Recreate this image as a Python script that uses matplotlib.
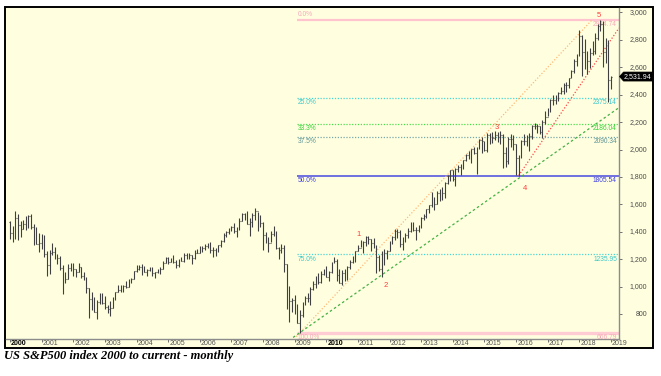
import matplotlib
matplotlib.use('Agg')
import matplotlib.pyplot as plt
from matplotlib.patches import Rectangle, Polygon
import numpy as np

# ---------------- data (monthly OHLC, Jan 2000 - Jan 2019) ----------------
first_open = 1469.25
closes = [
    1394.46, 1366.42, 1498.58, 1452.43, 1420.60, 1454.60, 1430.83, 1517.68, 1436.51, 1429.40, 1314.95, 1320.28,
    1366.01, 1239.94, 1160.33, 1249.46, 1255.82, 1224.42, 1211.23, 1133.58, 1040.94, 1059.78, 1139.45, 1148.08,
    1130.20, 1106.73, 1147.39, 1076.92, 1067.14, 989.82, 911.62, 916.07, 815.28, 885.76, 936.31, 879.82,
    855.70, 841.15, 848.18, 916.92, 963.59, 974.50, 990.31, 1008.01, 995.97, 1050.71, 1058.20, 1111.92,
    1131.13, 1144.94, 1126.21, 1107.30, 1120.68, 1140.84, 1101.72, 1104.24, 1114.58, 1130.20, 1173.82, 1211.92,
    1181.27, 1203.60, 1180.59, 1156.85, 1191.50, 1191.33, 1234.18, 1220.33, 1228.81, 1207.01, 1249.48, 1248.29,
    1280.08, 1280.66, 1294.83, 1310.61, 1270.09, 1270.20, 1276.66, 1303.82, 1335.85, 1377.94, 1400.63, 1418.30,
    1438.24, 1406.82, 1420.86, 1482.37, 1530.62, 1503.35, 1455.27, 1473.99, 1526.75, 1549.38, 1481.14, 1468.36,
    1378.55, 1330.63, 1322.70, 1385.59, 1400.38, 1280.00, 1267.38, 1282.83, 1166.36, 968.75, 896.24, 903.25,
    825.88, 735.09, 797.87, 872.81, 919.14, 919.32, 987.48, 1020.62, 1057.08, 1036.19, 1095.63, 1115.10,
    1073.87, 1104.49, 1169.43, 1186.69, 1089.41, 1030.71, 1101.60, 1049.33, 1141.20, 1183.26, 1180.55, 1257.64,
    1286.12, 1327.22, 1325.83, 1363.61, 1345.20, 1320.64, 1292.28, 1218.89, 1131.42, 1253.30, 1246.96, 1257.60,
    1312.41, 1365.68, 1408.47, 1397.91, 1310.33, 1362.16, 1379.32, 1406.58, 1440.67, 1412.16, 1416.18, 1426.19,
    1498.11, 1514.68, 1569.19, 1597.57, 1630.74, 1606.28, 1685.73, 1632.97, 1681.55, 1756.54, 1805.81, 1848.36,
    1782.59, 1859.45, 1872.34, 1883.95, 1923.57, 1960.23, 1930.67, 2003.37, 1972.29, 2018.05, 2067.56, 2058.90,
    1994.99, 2104.50, 2067.89, 2085.51, 2107.39, 2063.11, 2103.84, 1972.18, 1920.03, 2079.36, 2080.41, 2043.94,
    1940.24, 1932.23, 2059.74, 2065.30, 2096.95, 2098.86, 2173.60, 2170.95, 2168.27, 2126.15, 2198.81, 2238.83,
    2278.87, 2363.64, 2362.72, 2384.20, 2411.80, 2423.41, 2470.30, 2471.65, 2519.36, 2575.26, 2647.58, 2673.61,
    2823.81, 2713.83, 2640.87, 2648.05, 2705.27, 2718.37, 2816.29, 2901.52, 2913.98, 2711.74, 2760.17, 2506.85,
    2531.94,
]
highs = [
    1478.00, 1444.55, 1552.87, 1527.19, 1481.51, 1488.77, 1517.32, 1525.21, 1530.09, 1454.82, 1438.46, 1389.06,
    1383.37, 1376.38, 1263.47, 1269.30, 1315.93, 1286.62, 1239.78, 1226.27, 1155.40, 1110.61, 1163.38, 1173.62,
    1176.97, 1130.20, 1173.94, 1147.84, 1106.59, 1070.00, 994.46, 965.00, 924.02, 907.44, 951.57, 954.28,
    935.05, 864.64, 895.90, 924.24, 965.38, 1015.33, 1015.41, 1011.01, 1040.29, 1053.79, 1063.65, 1112.56,
    1155.38, 1158.98, 1163.23, 1150.57, 1127.74, 1146.34, 1140.84, 1109.68, 1131.54, 1142.05, 1188.46, 1217.33,
    1217.80, 1212.44, 1229.11, 1191.88, 1199.56, 1219.59, 1245.15, 1245.86, 1243.13, 1233.34, 1270.64, 1275.80,
    1294.90, 1297.57, 1310.88, 1318.16, 1326.70, 1290.68, 1280.42, 1306.74, 1340.28, 1389.45, 1407.89, 1431.81,
    1441.61, 1461.57, 1438.89, 1498.02, 1535.56, 1540.56, 1555.90, 1503.89, 1538.74, 1576.09, 1545.79, 1523.57,
    1471.77, 1396.02, 1359.68, 1404.57, 1440.24, 1404.05, 1292.17, 1313.15, 1303.04, 1167.03, 1007.51, 918.85,
    943.85, 875.01, 832.98, 888.70, 930.17, 956.23, 996.68, 1039.47, 1080.15, 1101.36, 1113.69, 1130.38,
    1150.45, 1112.42, 1180.16, 1219.80, 1205.13, 1131.23, 1120.95, 1129.24, 1148.90, 1196.14, 1227.08, 1262.60,
    1302.67, 1344.07, 1332.28, 1366.60, 1370.58, 1345.20, 1356.48, 1307.38, 1229.29, 1260.63, 1277.55, 1269.37,
    1333.47, 1371.94, 1419.15, 1422.38, 1415.32, 1363.46, 1391.74, 1426.68, 1474.51, 1470.96, 1434.27, 1448.00,
    1509.94, 1530.94, 1570.28, 1597.57, 1687.18, 1654.19, 1698.78, 1709.67, 1729.86, 1765.21, 1813.55, 1849.44,
    1850.84, 1867.92, 1883.97, 1897.28, 1924.03, 1968.17, 1991.39, 2005.04, 2019.26, 2018.19, 2075.76, 2093.55,
    2064.43, 2119.59, 2117.52, 2125.92, 2134.72, 2129.87, 2132.82, 2112.66, 2020.86, 2094.32, 2116.48, 2104.27,
    2043.94, 1962.96, 2072.21, 2111.05, 2103.48, 2120.55, 2177.09, 2193.81, 2187.87, 2169.60, 2214.10, 2277.53,
    2300.99, 2371.54, 2400.98, 2398.16, 2418.71, 2453.82, 2484.04, 2490.87, 2519.44, 2582.98, 2657.74, 2694.97,
    2872.87, 2835.96, 2801.90, 2717.49, 2742.24, 2791.47, 2848.03, 2916.50, 2944.74, 2939.86, 2815.15, 2800.18,
    2535.00,
]
lows = [
    1350.14, 1325.07, 1346.62, 1339.40, 1361.09, 1420.60, 1416.54, 1430.83, 1419.44, 1305.79, 1311.74, 1254.07,
    1274.62, 1215.44, 1081.19, 1091.99, 1232.00, 1203.03, 1165.54, 1124.87, 944.75, 1026.76, 1054.31, 1114.51,
    1081.66, 1074.36, 1106.73, 1063.46, 1048.96, 952.92, 775.68, 833.44, 815.28, 768.63, 872.19, 871.80,
    840.34, 806.29, 788.90, 847.85, 902.83, 963.59, 962.10, 960.84, 990.36, 995.97, 1031.20, 1058.20,
    1105.08, 1124.44, 1087.16, 1105.55, 1076.32, 1113.32, 1078.78, 1060.72, 1099.18, 1090.19, 1127.60, 1173.76,
    1163.75, 1180.95, 1176.92, 1136.15, 1146.18, 1188.30, 1183.55, 1201.07, 1205.35, 1168.20, 1201.07, 1246.59,
    1245.74, 1253.61, 1268.42, 1280.74, 1245.34, 1219.29, 1224.54, 1253.58, 1290.93, 1327.10, 1360.98, 1385.93,
    1403.97, 1389.42, 1363.98, 1416.37, 1476.70, 1484.18, 1454.25, 1370.60, 1439.29, 1489.56, 1406.10, 1435.65,
    1270.05, 1316.75, 1256.98, 1324.35, 1373.07, 1272.00, 1200.44, 1247.45, 1106.42, 839.80, 741.02, 815.69,
    804.30, 734.52, 666.79, 783.32, 866.10, 888.86, 869.32, 978.51, 991.97, 1019.95, 1029.38, 1085.89,
    1071.59, 1044.50, 1101.91, 1170.69, 1040.78, 1028.33, 1010.91, 1039.70, 1049.33, 1131.87, 1173.00, 1180.55,
    1257.62, 1289.14, 1249.05, 1294.70, 1311.80, 1258.07, 1282.86, 1101.54, 1114.22, 1074.77, 1158.66, 1202.37,
    1257.60, 1310.45, 1340.03, 1357.38, 1291.98, 1266.74, 1325.41, 1354.65, 1396.56, 1403.28, 1343.35, 1398.11,
    1426.19, 1485.01, 1501.48, 1536.03, 1581.28, 1560.33, 1604.57, 1627.47, 1633.41, 1646.47, 1746.20, 1767.99,
    1770.45, 1737.92, 1834.44, 1814.36, 1859.79, 1915.98, 1930.67, 1904.78, 1964.04, 1820.66, 2001.01, 1972.56,
    1988.12, 1980.90, 2039.69, 2048.38, 2067.93, 2056.32, 2044.02, 1867.01, 1871.91, 1893.70, 2019.39, 1993.26,
    1812.29, 1810.10, 1937.09, 2033.80, 2025.91, 1991.68, 2074.02, 2147.58, 2119.12, 2114.72, 2083.79, 2187.44,
    2245.13, 2271.65, 2322.25, 2328.95, 2352.72, 2405.70, 2407.70, 2417.35, 2446.55, 2520.40, 2557.45, 2605.52,
    2682.36, 2532.69, 2585.89, 2553.80, 2594.62, 2691.99, 2698.95, 2796.34, 2864.12, 2603.54, 2631.09, 2346.58,
    2443.96,
]
start_year = 2000

# Fibonacci retracement levels
fib_labels = ['0.0%', '25.0%', '33.3%', '37.5%', '50.0%', '75.0%', '100.0%']
fib_values = [2944.74, 2375.14, 2186.04, 2090.34, 1805.54, 1235.95, 666.79]
fib_start = 2009.08

# Elliott wave labels
wave_text = ['1', '2', '3', '4', '5']
wave_x = [2011.03, 2011.87, 2015.39, 2016.28, 2018.62]
wave_y = [1382, 1013, 2162, 1718, 2980]

# trend lines (two anchor points each)
orange_x = [2009.05, 2018.40]
orange_y = [637.0, 2944.74]
green_x = [2008.95, 2019.25]
green_y = [631.0, 2305.0]
red_x = [2016.08, 2019.25]
red_y = [1810.1, 2885.0]

last_price = 2531.94
year_ticks = list(range(2000, 2020))
price_ticks = list(range(800, 3001, 200))

# ---------------- figure ----------------
W, H = 661, 376
fig = plt.figure(figsize=(W / 100, H / 100), dpi=100)
fig.patch.set_facecolor('white')
BG = '#FFFFE0'

frame = Rectangle((5 / W, 1 - 348 / H), (653 - 5) / W, (348 - 7) / H,
                  transform=fig.transFigure, facecolor=BG, edgecolor='black',
                  linewidth=1.4, zorder=-10)
fig.patches.append(frame)

AX_L, AX_R, AX_T, AX_B = 6, 619, 8, 339
ax = fig.add_axes([AX_L / W, 1 - AX_B / H, (AX_R - AX_L) / W, (AX_B - AX_T) / H])
ax.set_zorder(1)
ax.set_facecolor(BG)
ax.set_xlim(1999.874, 2019.253)
ax.set_ylim(619.7, 3031.3)

for s in ['top', 'left']:
    ax.spines[s].set_visible(False)
for s in ['bottom', 'right']:
    ax.spines[s].set_color('#8c8c8c')
    ax.spines[s].set_linewidth(1.0)

FONT = 'Liberation Sans'

# OHLC bars
n = len(closes)
xs = start_year + np.arange(n) / 12.0
opens = [first_open] + closes[:-1]
w = 0.022
bar_col = '#404040'
ax.vlines(xs, lows, highs, color=bar_col, linewidth=0.8, zorder=4)
ax.hlines(opens, xs - w, xs, color=bar_col, linewidth=0.8, zorder=4)
ax.hlines(closes, xs, xs + w, color=bar_col, linewidth=0.8, zorder=4)

# Fibonacci levels
fib_line_col = ['#FFC4CE', '#48D8D4', '#48E048', '#78A8A8', '#5858E0', '#48D8D4', '#FFCCD4']
fib_text_col = ['#F4A8B8', '#38C8C8', '#38D038', '#5C9494', '#3C3CE0', '#38C8C8', '#F4A8B8']
fib_ls = ['-', (0, (1, 1.3)), (0, (1, 1.3)), (0, (1, 1.3)), '-', (0, (1, 1.3)), '-']
fib_lw = [1.6, 0.9, 0.9, 0.9, 1.2, 0.9, 2.4]
xmax = ax.get_xlim()[1]
for i, (lab, val) in enumerate(zip(fib_labels, fib_values)):
    ax.hlines(val, fib_start, xmax, color=fib_line_col[i], linestyle=fib_ls[i],
              linewidth=fib_lw[i], zorder=2)
    if i == 0:
        ax.annotate(lab, (fib_start + 0.02, val), xytext=(0, 1.5), textcoords='offset points',
                    ha='left', va='bottom', fontsize=4.8, color=fib_text_col[i], family=FONT, zorder=3)
    else:
        ax.annotate(lab, (fib_start + 0.02, val), xytext=(0, -0.8), textcoords='offset points',
                    ha='left', va='top', fontsize=4.8, color=fib_text_col[i], family=FONT, zorder=3)
    ax.annotate(f'{val:.2f}', (2019.19, val), xytext=(0, -0.8), textcoords='offset points',
                ha='right', va='top', fontsize=4.8, color=fib_text_col[i], family=FONT, zorder=3)

# trend lines
ax.plot(orange_x, orange_y, color='#FFB878', linestyle=(0, (1, 1.5)), linewidth=0.9, zorder=3)
ax.plot(green_x, green_y, color='#44B044', linestyle=(0, (2, 2)), linewidth=0.9, zorder=3)
ax.plot(red_x, red_y, color='#FF4848', linestyle=(0, (1, 1.5)), linewidth=0.9, zorder=3)

# wave labels
for t, x, y in zip(wave_text, wave_x, wave_y):
    ax.text(x, y, t, color='#FF3A3A', fontsize=5.5, ha='center', va='center', family=FONT, zorder=5)

# x ticks (years)
ax.set_xticks(year_ticks)
ax.tick_params(axis='x', direction='out', length=2.2, width=0.7, color='#707070',
               labelbottom=False)
for yr in year_ticks:
    bold = yr in (2000, 2010)
    ax.annotate(str(yr), (yr, 0), xycoords=('data', 'axes fraction'),
                xytext=(0.8, -0.9), textcoords='offset points', ha='left', va='top',
                fontsize=5, family=FONT, fontweight='bold' if bold else 'normal',
                color='#000000' if bold else '#555555', annotation_clip=False)

# y ticks (right side)
ax.yaxis.tick_right()
ax.set_yticks(price_ticks)
ax.tick_params(axis='y', direction='out', length=2, width=0.7, color='#707070',
               labelright=False, labelleft=False, left=False)
ytrans = ax.get_yaxis_transform()
xlab = (647 - AX_L) / (AX_R - AX_L)
for p in price_ticks:
    ax.text(xlab, p, f'{p:,}', transform=ytrans, ha='right', va='center',
            fontsize=5, family=FONT, color='#4a4a4a', clip_on=False)

# current price tag
fig.canvas.draw()
_, ypix = ax.transData.transform((2010, last_price))
ytop_pix = ypix + 4.5
ybot_pix = ypix - 4.5
xa = AX_R + 0.5
tag_pts_px = [(xa, ypix), (xa + 4, ytop_pix), (652, ytop_pix), (652, ybot_pix), (xa + 4, ybot_pix)]
tag_pts = [(px / W, py / H) for px, py in tag_pts_px]
tag = Polygon(tag_pts, closed=True, transform=fig.transFigure, facecolor='black',
              edgecolor='black', linewidth=0.5, zorder=10)
fig.patches.append(tag)
fig.text(637 / W, ypix / H, f'{last_price:,.2f}', color='white', fontsize=5,
         family=FONT, ha='center', va='center', zorder=11)

# caption
fig.text(4 / W, 1 - 359.5 / H, 'US S&P500 index 2000 to current - monthly',
         family='Liberation Serif', fontsize=9, fontweight='bold', fontstyle='italic',
         ha='left', va='baseline', color='black')

fig.savefig('out.png', dpi=100, facecolor='white')
